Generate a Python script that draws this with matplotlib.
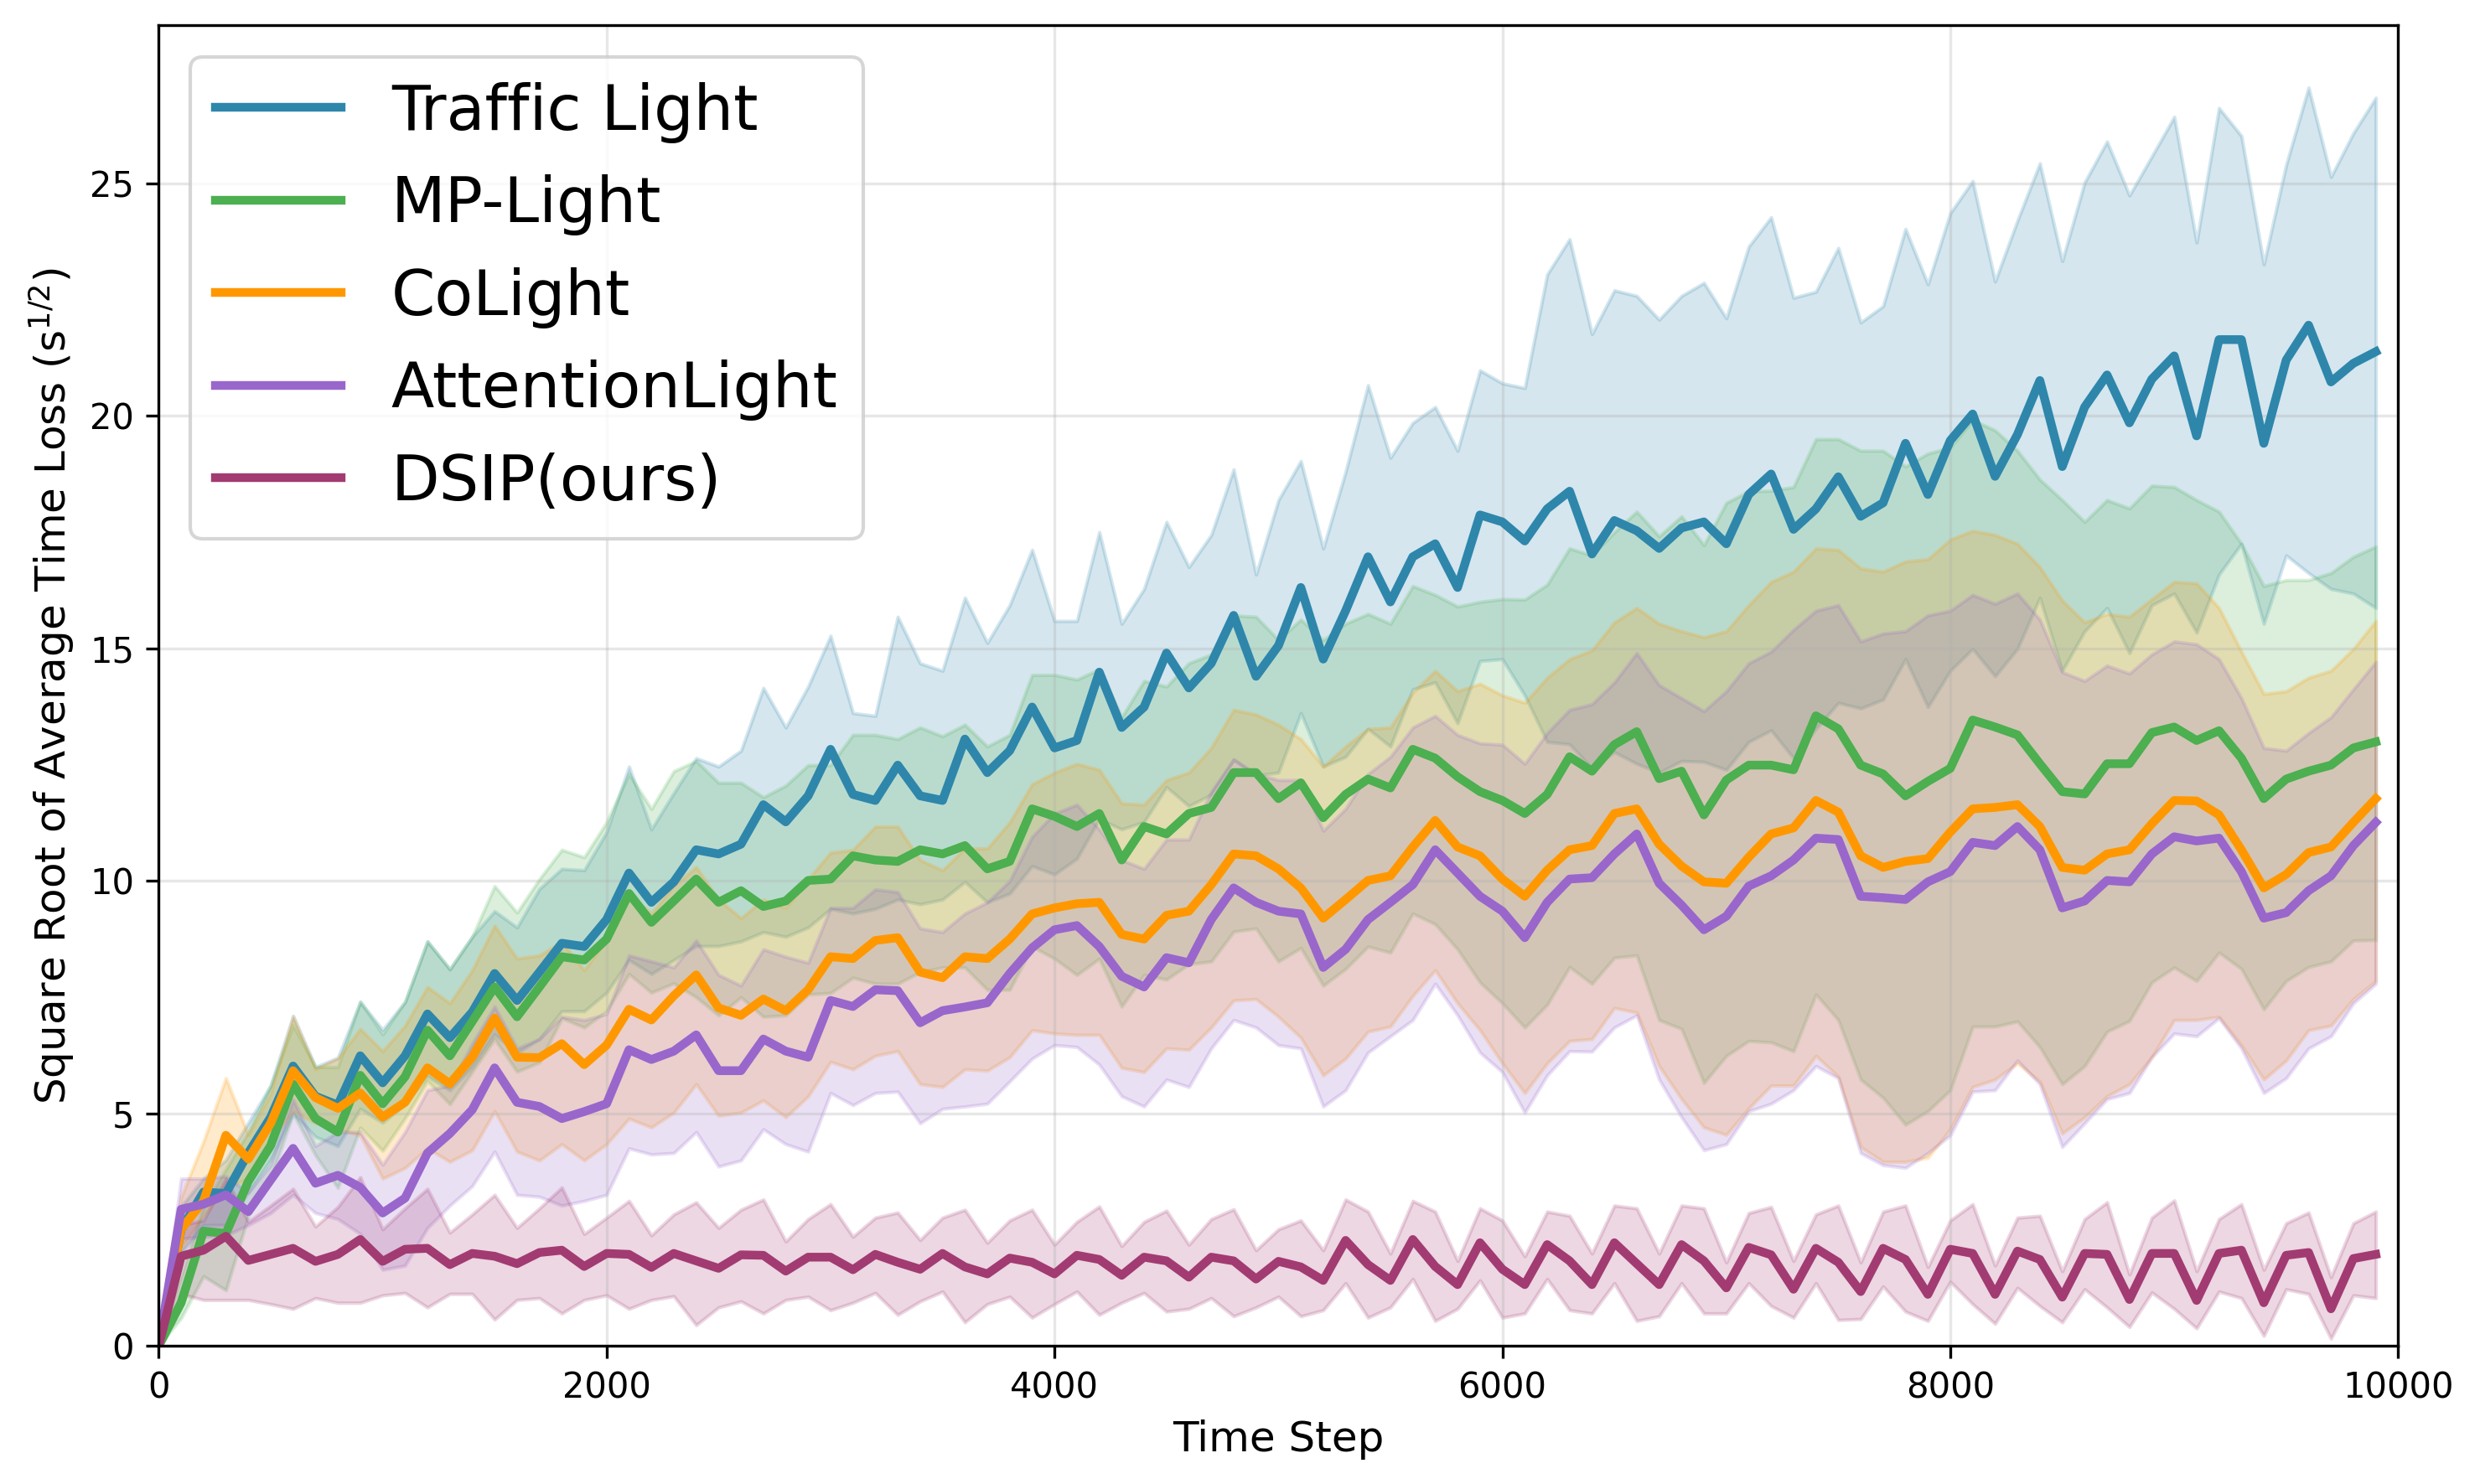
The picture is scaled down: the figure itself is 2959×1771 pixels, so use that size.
import numpy as np
import matplotlib.pyplot as plt

# time steps (one sample every 100 steps)
steps = np.arange(0, 10000, 100)

# Traffic Light
tl_mean = [0, 2.5, 3.31, 3.28, 4.15, 4.92, 6.02, 5.37, 5.18, 6.24, 5.66, 6.24, 7.14, 6.63, 7.18, 8.01, 7.43, 8.04, 8.66, 8.59, 9.17, 10.17, 9.54, 9.98, 10.67,
           10.58, 10.79, 11.64, 11.27, 11.83, 12.83, 11.86, 11.73, 12.49, 11.83, 11.73, 13.05, 12.33, 12.80, 13.74, 12.86, 13.02, 14.49, 13.30, 13.74, 14.90, 14.15, 14.68, 15.71, 14.40,
           15.06, 16.31, 14.77, 15.81, 16.97, 16.00, 16.97, 17.25, 16.31, 17.87, 17.72, 17.31, 18.00, 18.38, 17.03, 17.75, 17.53, 17.15, 17.59, 17.72, 17.25, 18.31, 18.75, 17.56, 18.00,
           18.69, 17.84, 18.13, 19.41, 18.31, 19.47, 20.04, 18.70, 19.60, 20.76, 18.91, 20.19, 20.88, 19.85, 20.79, 21.29, 19.57, 21.64, 21.64, 19.41, 21.20, 21.95, 20.73, 21.13, 21.38]
tl_upper = [0, 3.0, 3.6, 4.0, 4.8, 5.6, 7.1, 6.0, 6.2, 7.4, 6.8, 7.4, 8.7, 8.1, 8.8, 9.35, 9.0, 9.83, 10.26, 10.23, 11.05, 12.46, 11.11, 11.89, 12.64,
            12.46, 12.80, 14.15, 13.30, 14.18, 15.27, 13.61, 13.55, 15.68, 14.68, 14.52, 16.09, 15.12, 15.93, 17.12, 15.59, 15.59, 17.50, 15.53, 16.28, 17.72, 16.75, 17.44, 18.85, 16.59,
            18.19, 19.03, 17.15, 18.80, 20.66, 19.10, 19.85, 20.19, 19.25, 20.98, 20.70, 20.60, 23.04, 23.80, 21.76, 22.70, 22.58, 22.07, 22.58, 22.86, 22.10, 23.64, 24.27, 22.54, 22.67,
            23.61, 22.01, 22.36, 24.02, 22.83, 24.36, 25.05, 22.89, 24.20, 25.43, 23.33, 25.02, 25.90, 24.74, 25.58, 26.43, 23.73, 26.62, 26.02, 23.26, 25.40, 27.06, 25.14, 26.08, 26.84]
tl_lower = [0, 2.0, 2.6, 2.6, 3.3, 4.0, 5.0, 4.5, 4.3, 5.1, 4.8, 5.2, 5.8, 5.5, 6.0, 6.7, 6.3, 6.6, 7.2, 7.2, 7.6, 8.3, 8.0, 8.3, 8.6,
            8.6, 8.7, 8.9, 8.8, 9.0, 9.4, 9.3, 9.4, 9.6, 9.5, 9.6, 9.98, 9.54, 9.73, 10.32, 10.14, 10.48, 11.33, 11.11, 11.27, 12.02, 11.61, 11.86, 12.61, 12.27,
            12.33, 13.61, 12.46, 12.67, 13.27, 12.89, 14.12, 14.27, 13.39, 14.73, 14.77, 13.99, 12.99, 12.94, 12.42, 12.77, 12.52, 12.33, 12.58, 12.56, 12.39, 12.99, 13.24, 12.64, 13.27,
            13.83, 13.71, 13.90, 14.77, 13.74, 14.52, 14.99, 14.40, 14.99, 16.09, 14.52, 15.37, 15.87, 14.90, 15.93, 16.18, 15.34, 16.59, 17.25, 15.53, 17.00, 16.62, 16.28, 16.18, 15.87]

# MP-Light
mp_mean = [0, 0.93, 2.47, 2.42, 3.54, 4.31, 5.63, 4.89, 4.60, 5.82, 5.21, 5.79, 6.79, 6.24, 6.98, 7.72, 7.08, 7.72, 8.37, 8.30, 8.75, 9.73, 9.11, 9.57, 10.04,
           9.54, 9.79, 9.45, 9.57, 10.01, 10.04, 10.54, 10.45, 10.42, 10.67, 10.58, 10.76, 10.26, 10.42, 11.55, 11.39, 11.17, 11.45, 10.45, 11.17, 11.01, 11.45, 11.58, 12.33, 12.33,
           11.77, 12.11, 11.36, 11.86, 12.19, 12.00, 12.83, 12.64, 12.24, 11.92, 11.73, 11.45, 11.86, 12.67, 12.36, 12.93, 13.21, 12.20, 12.36, 11.42, 12.17, 12.49, 12.49, 12.39, 13.55,
           13.27, 12.49, 12.30, 11.83, 12.14, 12.42, 13.46, 13.31, 13.14, 12.52, 11.92, 11.87, 12.52, 12.52, 13.19, 13.31, 13.02, 13.23, 12.64, 11.77, 12.19, 12.36, 12.49, 12.86, 12.99]
mp_upper = [0, 1.5, 3.0, 3.8, 4.6, 5.6, 6.9, 6.0, 6.0, 7.4, 6.7, 7.4, 8.7, 8.1, 8.8, 9.89, 9.32, 10.04, 10.67, 10.51, 11.26, 12.30, 11.55, 12.36, 12.58,
            12.11, 12.11, 11.80, 12.05, 12.49, 12.49, 13.14, 13.14, 13.05, 13.30, 13.11, 13.36, 12.89, 13.14, 14.43, 14.43, 14.33, 14.55, 13.52, 14.30, 14.18, 14.68, 14.87, 15.71, 15.68,
            15.18, 15.62, 15.18, 15.53, 15.74, 15.53, 16.34, 16.15, 15.90, 16.00, 16.06, 16.05, 16.37, 17.15, 17.00, 17.50, 17.94, 17.41, 17.84, 17.22, 18.13, 18.38, 18.39, 18.47, 19.50,
            19.50, 19.25, 19.25, 18.91, 19.19, 19.32, 19.91, 19.69, 19.25, 18.63, 18.19, 17.72, 18.19, 18.01, 18.50, 18.47, 18.19, 17.94, 17.25, 16.34, 16.47, 16.47, 16.62, 16.97, 17.19]
mp_lower = [0, 0.6, 1.5, 1.2, 2.8, 3.6, 5.0, 4.1, 3.4, 4.7, 4.2, 4.9, 5.7, 5.2, 5.9, 6.6, 5.9, 6.1, 7.05, 6.85, 7.2, 8.0, 7.6, 7.8, 7.5,
            7.11, 7.50, 7.08, 7.11, 7.56, 7.59, 7.92, 7.79, 7.79, 8.04, 8.14, 8.14, 7.66, 7.66, 8.59, 8.33, 7.98, 8.33, 7.30, 7.98, 7.88, 8.21, 8.27, 8.91, 8.98,
            8.27, 8.56, 7.75, 8.11, 8.59, 8.46, 9.30, 9.07, 8.53, 7.82, 7.37, 6.85, 7.34, 8.15, 7.79, 8.35, 8.40, 7.01, 6.82, 5.66, 6.24, 6.56, 6.53, 6.34, 7.56,
            7.01, 5.73, 5.34, 4.76, 5.05, 5.50, 6.87, 6.87, 6.98, 6.43, 5.63, 6.02, 6.76, 6.99, 7.82, 8.14, 7.85, 8.46, 8.11, 7.24, 7.85, 8.15, 8.27, 8.72, 8.73]

# CoLight
co_mean = [0, 2.51, 3.12, 4.53, 4.02, 4.79, 5.92, 5.34, 5.11, 5.44, 4.92, 5.24, 5.98, 5.64, 6.21, 7.05, 6.21, 6.20, 6.50, 6.05, 6.47, 7.24, 7.01, 7.53, 7.98,
           7.27, 7.11, 7.46, 7.21, 7.66, 8.37, 8.33, 8.72, 8.78, 8.04, 7.92, 8.37, 8.33, 8.75, 9.29, 9.42, 9.51, 9.54, 8.85, 8.75, 9.26, 9.35, 9.92, 10.58, 10.54,
           10.26, 9.85, 9.20, 9.60, 10.01, 10.11, 10.73, 11.30, 10.73, 10.54, 10.04, 9.67, 10.23, 10.67, 10.76, 11.45, 11.55, 10.79, 10.32, 9.98, 9.95, 10.51, 11.01, 11.14, 11.73,
           11.48, 10.54, 10.29, 10.42, 10.48, 11.05, 11.55, 11.58, 11.64, 11.17, 10.29, 10.23, 10.58, 10.67, 11.23, 11.73, 11.72, 11.42, 10.67, 9.85, 10.14, 10.61, 10.73, 11.26, 11.77]
co_upper = [0, 3.2, 4.4, 5.76, 4.54, 5.44, 7.08, 5.95, 6.18, 6.82, 6.34, 6.89, 7.72, 7.37, 8.08, 9.04, 8.33, 8.40, 8.69, 8.08, 8.75, 9.7, 9.3, 9.9, 10.3,
            9.60, 9.20, 9.60, 9.42, 10.04, 10.61, 10.67, 11.17, 11.17, 10.45, 10.23, 10.70, 10.70, 11.26, 12.08, 12.33, 12.52, 12.39, 11.67, 11.64, 12.17, 12.33, 12.86, 13.68, 13.58,
            13.36, 13.05, 12.46, 12.89, 13.27, 13.30, 14.05, 14.52, 14.08, 14.24, 13.99, 13.83, 14.37, 14.77, 14.96, 15.56, 15.87, 15.53, 15.37, 15.24, 15.37, 15.93, 16.43, 16.65, 17.15,
            17.12, 16.72, 16.65, 16.87, 16.92, 17.34, 17.53, 17.44, 17.25, 16.75, 16.03, 15.56, 15.74, 15.68, 16.06, 16.43, 16.40, 15.87, 14.93, 14.02, 14.08, 14.37, 14.52, 14.99, 15.59]
co_lower = [0, 2.1, 2.8, 3.4, 3.6, 4.4, 5.05, 4.79, 4.66, 4.53, 3.60, 3.83, 4.25, 3.96, 4.21, 5.05, 4.18, 3.99, 4.34, 3.99, 4.34, 4.89, 4.70, 5.02, 5.63,
            4.95, 5.02, 5.28, 4.92, 5.37, 6.11, 5.95, 6.24, 6.34, 5.63, 5.57, 5.95, 5.92, 6.21, 6.79, 6.72, 6.69, 6.69, 5.98, 5.89, 6.40, 6.37, 6.85, 7.43, 7.46,
            7.08, 6.63, 5.82, 6.18, 6.76, 6.87, 7.53, 8.08, 7.37, 6.79, 6.08, 5.44, 6.08, 6.56, 6.60, 7.27, 7.17, 6.02, 5.31, 4.70, 4.54, 5.11, 5.60, 5.60, 6.24,
            5.79, 4.28, 3.96, 3.96, 4.05, 4.66, 5.57, 5.73, 6.08, 5.69, 4.57, 4.92, 5.37, 5.63, 6.21, 7.01, 7.01, 7.08, 6.47, 5.73, 6.14, 6.79, 6.89, 7.46, 7.85]

# AttentionLight
at_mean = [0, 2.94, 3.05, 3.25, 2.89, 3.57, 4.25, 3.50, 3.67, 3.41, 2.86, 3.18, 4.15, 4.57, 5.08, 5.98, 5.24, 5.15, 4.89, 5.04, 5.21, 6.37, 6.16, 6.34, 6.69,
           5.92, 5.92, 6.60, 6.34, 6.21, 7.43, 7.30, 7.66, 7.64, 6.95, 7.21, 7.29, 7.38, 8.01, 8.56, 8.95, 9.04, 8.59, 7.95, 7.72, 8.35, 8.24, 9.17, 9.85, 9.54,
           9.35, 9.29, 8.14, 8.53, 9.17, 9.54, 9.92, 10.67, 10.17, 9.67, 9.35, 8.78, 9.54, 10.04, 10.07, 10.58, 11.01, 9.95, 9.48, 8.95, 9.24, 9.89, 10.11, 10.45, 10.92,
           10.89, 9.67, 9.64, 9.60, 9.98, 10.20, 10.83, 10.76, 11.17, 10.67, 9.42, 9.57, 10.01, 9.98, 10.58, 10.95, 10.86, 10.92, 10.20, 9.20, 9.32, 9.79, 10.11, 10.76, 11.26]
at_upper = [0, 3.6, 3.6, 3.65, 3.3, 3.9, 5.3, 4.3, 4.6, 4.6, 3.9, 4.6, 5.5, 5.6, 6.5, 7.3, 6.4, 6.6, 7.08, 7.01, 7.14, 8.40, 8.27, 8.14, 8.72,
            7.98, 7.75, 8.53, 8.37, 8.24, 9.42, 9.42, 9.82, 9.76, 8.98, 8.90, 9.30, 9.54, 10.00, 10.95, 11.45, 11.64, 11.11, 10.45, 10.26, 10.89, 10.89, 11.92, 12.61, 12.30,
            12.17, 12.17, 11.08, 11.55, 12.30, 12.67, 13.30, 13.55, 13.14, 12.96, 12.93, 12.52, 13.18, 13.68, 13.80, 14.27, 14.90, 14.21, 13.93, 13.65, 14.08, 14.68, 14.93, 15.40, 15.81,
            15.93, 15.15, 15.32, 15.37, 15.71, 15.81, 16.15, 15.96, 16.18, 15.62, 14.49, 14.30, 14.63, 14.46, 14.87, 15.15, 15.09, 14.77, 13.93, 12.86, 12.80, 13.18, 13.52, 14.12, 14.71]
at_lower = [0, 2.31, 2.35, 2.38, 2.60, 2.86, 3.25, 2.86, 2.73, 2.41, 1.64, 1.73, 2.54, 3.02, 3.44, 4.18, 3.25, 3.21, 3.02, 3.12, 3.25, 4.25, 4.12, 4.15, 4.60,
            3.86, 3.99, 4.66, 4.34, 4.18, 5.44, 5.18, 5.44, 5.47, 4.79, 5.10, 5.15, 5.21, 5.69, 6.18, 6.47, 6.43, 6.05, 5.37, 5.15, 5.73, 5.57, 6.40, 7.01, 6.85,
            6.47, 6.40, 5.15, 5.50, 6.31, 6.66, 7.01, 7.79, 7.11, 6.31, 5.89, 5.02, 5.82, 6.34, 6.33, 6.85, 7.11, 5.73, 4.92, 4.21, 4.34, 5.05, 5.21, 5.50, 6.02,
            5.76, 4.15, 3.89, 3.83, 4.15, 4.53, 5.47, 5.50, 6.14, 5.63, 4.28, 4.79, 5.31, 5.44, 6.21, 6.72, 6.66, 7.05, 6.40, 5.44, 5.76, 6.40, 6.66, 7.37, 7.79]

# DSIP(ours)
ds_mean = [0, 1.93, 2.06, 2.36, 1.84, 1.97, 2.10, 1.82, 1.97, 2.29, 1.82, 2.08, 2.10, 1.75, 1.99, 1.93, 1.77, 2.01, 2.06, 1.71, 1.99, 1.97, 1.69, 1.99, 1.83,
           1.67, 1.96, 1.95, 1.61, 1.91, 1.91, 1.64, 1.97, 1.80, 1.65, 1.99, 1.70, 1.55, 1.89, 1.80, 1.55, 1.95, 1.86, 1.52, 1.91, 1.83, 1.48, 1.91, 1.83, 1.44,
           1.82, 1.70, 1.41, 2.27, 1.75, 1.41, 2.29, 1.71, 1.32, 2.22, 1.65, 1.32, 2.18, 1.83, 1.32, 2.22, 1.77, 1.32, 2.18, 1.83, 1.25, 2.12, 1.96, 1.22, 2.10,
           1.80, 1.17, 2.10, 1.86, 1.11, 2.08, 1.99, 1.11, 2.04, 1.86, 1.05, 1.99, 1.97, 1.00, 1.99, 1.99, 0.98, 1.99, 2.06, 0.93, 1.95, 2.01, 0.80, 1.88, 1.97]
ds_upper = [0, 2.6, 2.7, 3.6, 2.67, 3.02, 3.38, 2.57, 2.99, 3.63, 2.51, 2.96, 3.38, 2.44, 2.83, 3.25, 2.54, 2.96, 3.41, 2.41, 2.76, 3.12, 2.38, 2.83, 3.09,
            2.54, 2.93, 3.15, 2.25, 2.73, 3.05, 2.35, 2.76, 2.87, 2.28, 2.76, 2.93, 2.22, 2.70, 2.93, 2.18, 2.67, 3.00, 2.15, 2.67, 2.91, 2.18, 2.73, 2.94, 2.06,
            2.51, 2.70, 2.06, 3.15, 2.89, 1.99, 3.12, 2.89, 1.83, 2.96, 2.70, 1.93, 2.89, 2.80, 1.99, 3.02, 2.96, 1.99, 3.02, 2.96, 1.80, 2.86, 2.99, 1.83, 2.83,
            3.02, 1.80, 2.89, 3.02, 1.70, 2.70, 3.05, 1.73, 2.76, 2.80, 1.61, 2.73, 3.09, 1.54, 2.76, 3.13, 1.61, 2.73, 3.05, 1.64, 2.64, 2.87, 1.48, 2.64, 2.89]
ds_lower = [0, 1.12, 0.99, 0.99, 0.99, 0.90, 0.80, 1.03, 0.93, 0.93, 1.09, 1.14, 0.83, 1.12, 1.12, 0.57, 0.99, 1.03, 0.70, 0.99, 1.09, 0.80, 0.99, 1.07, 0.45,
            0.83, 0.96, 0.70, 0.99, 1.06, 0.77, 0.93, 1.14, 0.67, 0.96, 1.17, 0.51, 0.90, 1.06, 0.61, 0.90, 1.17, 0.67, 0.93, 1.14, 0.74, 0.80, 1.03, 0.64, 0.83,
            1.06, 0.64, 0.77, 1.35, 0.61, 0.83, 1.44, 0.54, 0.80, 1.41, 0.61, 0.70, 1.44, 0.77, 0.70, 1.35, 0.54, 0.64, 1.35, 0.70, 0.70, 1.35, 0.86, 0.61, 1.35,
            0.56, 0.58, 1.28, 0.74, 0.54, 1.38, 0.90, 0.48, 1.25, 0.86, 0.51, 1.22, 0.83, 0.41, 1.15, 0.80, 0.38, 1.17, 1.03, 0.22, 1.22, 1.12, 0.16, 1.09, 1.03]

labels = ['Traffic Light', 'MP-Light', 'CoLight', 'AttentionLight', 'DSIP(ours)']
colors = ['#2E86AB', '#4CAF50', '#FF9800', '#9966CC', '#A23B72']
means = [tl_mean, mp_mean, co_mean, at_mean, ds_mean]
uppers = [tl_upper, mp_upper, co_upper, at_upper, ds_upper]
lowers = [tl_lower, mp_lower, co_lower, at_lower, ds_lower]

fig, ax = plt.subplots(figsize=(2959 / 300, 1771 / 300), dpi=300)
fig.subplots_adjust(left=0.064, right=0.967, bottom=0.093, top=0.983)

# shaded spread first, then the mean lines on top
for lo, hi, c in zip(lowers, uppers, colors):
    ax.fill_between(steps, lo, hi, color=c, alpha=0.2)
for m, c, lab in zip(means, colors, labels):
    ax.plot(steps, m, color=c, linewidth=2.5, label=lab)

ax.set_xlim(0, 10000)
ax.set_ylim(0, 28.4)
ax.set_xlabel('Time Step', fontsize=12)
ax.set_ylabel('Square Root of Average Time Loss (s$^{1/2}$)', fontsize=12)
ax.tick_params(labelsize=10)
ax.grid(True, alpha=0.3)
ax.legend(loc='upper left', fontsize=18)

plt.savefig('out.png', dpi=300)
